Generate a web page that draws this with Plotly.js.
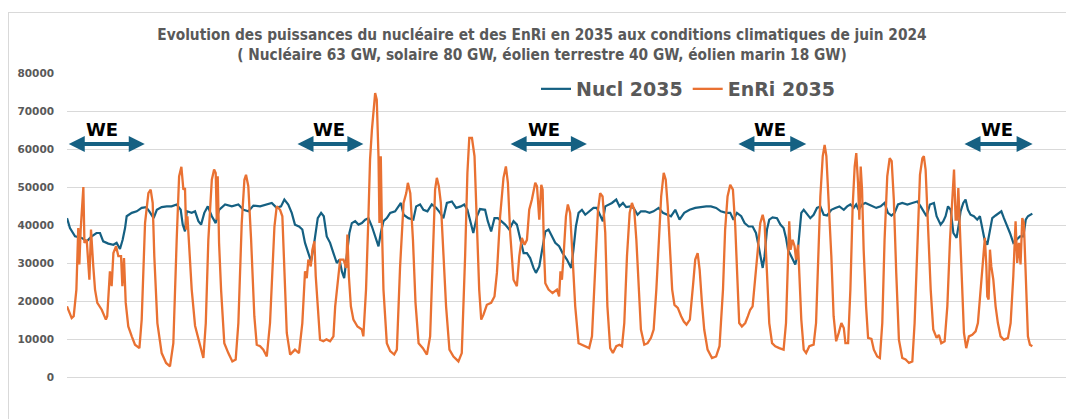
<!DOCTYPE html>
<html>
<head>
<meta charset="utf-8">
<script src="https://cdn.plot.ly/plotly-3.0.1.min.js"></script>
<style>
  html, body { margin: 0; padding: 0; background: #ffffff; }
  #wrap { position: relative; width: 1066px; height: 419px; overflow: hidden; }
  #chart { position: absolute; left: 0; top: 0; width: 1066px; height: 419px; }
  #frame { position: absolute; left: 8px; top: 12px; width: 1100px; height: 450px;
           border-left: 1px solid #d9d9d9; border-top: 1px solid #d9d9d9; pointer-events: none; }
</style>
</head>
<body>
<div id="wrap"><div id="chart"></div><div id="frame"></div></div>
<script>
// ---- Data: hours since 1 June 2024 00:00, power in MW ----
const nuclHours = [].concat(
  [0,2.2,6,11,14.7,18.4,22,24.6,27,30.8,34.6,37,39.5,41.5,43.3,44.5,48.3,52,55.7,59,61.4,64.6,67,70.6,74.4,78,81.8,84.8,86.3,88,89.3,93,95.5],
  [98,100,102.4,105,108,110.9,113.4,117.9,122.9,127.8,131.6,135.3,139,144,149,152.7,156.4,159.6,162.1,165,167.6,170,173,175.5,177.5,180,182,184,185.5,187,189.5,191.5,193.7,196.2,198.7],
  [201.2,203.2,205,206.7,208.7,210.6,212.4,214.9,217.4,219.9,222.4,224.8,227.4,229.8,232.3,234,236,238.5,241,244.7,249,251,254.6,258.3,260.4,263.3,265.8,268.8,272,275.3,278.3,280.7,283.3,287,290.2,293.7,296.2,298.6],
  [300.3,303,305.7,308,311.8,313.8,316.3,318.8,321.3,323.8,326.8,329.8,333,335.5,338,340.5,343,345.4,347.9,349.7,352.2,354.7,356.7,359.1,361.7,364.1,367,369.6,372.8,376,377.7,379.5,381.5,384,386.5,389.4,392.6,395.1,397.6,399.6],
  [401.4,403.8,406.4,409.6,412,414.6,417,420,422.5,425.5,428,431.2,434.4,437.4,441.2,444.4,447.4,450.4,453.6,456.8,460.3,464.3,468.5,472.2,476.7,480.2,484.1,487.6,491.6,494.6,497,499.6],
  [502.8,505.3,508.3,511.3,513.8,515.8,517.3,518.8,520.2,522,523.7,526.2,529.5,532,534.4,536.2,537.7,539.4,541.1,543.1,544.6,546.1,547.6,549.4,551.9,554.3,556.8,559.3,561.8,564.3,566.8,570,573,576,579.3,581.8,584.2,586.7,588.5,590.4,593,595.4,597.9],
  [600.9,603.5,606.8,609.7,612.2,614.8,617.2,619.7,622.9,626.7,630.4,634.1,636.6,639,641,643.5,646.5,648.5,651.5,653.5,655.2,657,659,661,663.4,665.2,666.4,668.4,670.1,671.9,673.8,676.3,678.8,680.8,682.6,684.3,686.3,688.3,690,692.5,695,696.8,698.7,700.7,703.2,705.7,708.2,710.7,713.2,715,716.6,719.9]
);
const nuclValues = [].concat(
  [41800,39200,37000,36600,35700,37000,37900,37900,35700,35100,34800,35300,33700,36100,39200,42300,43200,43600,44500,44700,43600,41800,44000,44700,44900,44900,45400,44000,40100,38300,43600,43200,43600],
  [41000,40100,43200,44900,42300,40500,44000,45400,44900,45400,44000,43600,45100,44900,45400,45800,44500,44900,46700,45400,43200,40100,39600,38800,35300,32200,30400,34400,38800,41800,43200,42300,37000,35300,32600],
  [30000,30900,27800,26000,31800,37900,40500,41000,40100,40500,41400,41800,39600,37000,34400,37900,41000,41800,43200,43600,45800,42700,41800,41400,44900,45400,44000,43600,45400,44500,43200,41800,45800,46200,44500,44900,45400,44000],
  [41600,37900,42300,44200,44000,41000,38300,41800,41800,41000,40100,38800,41000,40100,36600,32600,32600,31300,28700,27400,29100,34400,38300,38800,37000,35300,34400,32600,30900,28700,33500,39600,43200,44000,42700,43600,44500,44500,42700,41000],
  [44900,45400,45800,46700,44900,45800,44700,44900,44500,42700,43600,43600,43200,43600,44500,43200,42700,42300,44000,41400,43200,44000,44500,44700,44900,44900,44500,43600,43200,43200,41400,43200],
  [42300,40500,39600,39600,37900,34400,30900,28700,31800,38800,41400,42000,41800,40100,39200,36600,33500,32200,31300,29600,31800,38800,43200,44000,42700,41800,42700,44500,44900,42700,42500,44000,44500,44900,44000,44900,45400,44500,45400,44000,45400,45800,45400],
  [44900,44500,44900,45800,43200,42500,43200,45400,45800,45400,45800,46200,44900,43600,42300,45400,45800,42300,40100,41000,42300,44900,44000,37900,36600,40500,43600,45800,46700,44000,42700,42300,41400,42300,38800,36100,34800,38800,41800,42500,43200,43600,41800,40100,37900,35300,36100,37000,37000,41400,42300,43000]
);

const enriHours = [].concat(
  [0,3.5,5,7,8.4,9.2,10.2,12.2,13,14.7,16.7,17.9,19.6,20.9,22.6,25.9,29,30,32,33.3,34.6,36.6,38.3,40.3,41.3,42.5,43.8,45.7,48.3,50.7,54,55.7,58.2,60.7,62.4,63.9,65.1,67.4,70.6,73.9,76.8,79.3,81.8,83.6,85.3,86.8,88,88.8,89.8,93,95.5],
  [98,100.5,101.7,103.5,105.4,108,109.7,110.9,111.7,112.4,113.4,114.9,117.3,120.3,123.3,125.8,127.8,130.3,132.3,133.5,135.2,137.3,139.7,141.5,144,146.4,149,151.4,153.2,154.7,156.4,158.9,160.6,162.1,163.9,166.4,170,173,175.5,177.5,178.8,180,181.8,183,184.5,185.5,187,188.7,191.2,193.5],
  [196.2,198.7,200,201.7,203.7,206.2,208.2,209.1,210.2,211.7,213.6,216.6,219.9,221,223,224.8,226,227.4,228.6,229.8,231,232.3,233,234,234.8,236,238.5,241,244,246,248.4,251,253,254.2,256,258,259.9,262.2,265.4,268.4,270.8,272.8,274.5,275.8,277.3,278.8,280.7,282.7,285.2,288.2,291.9,294.4,296.9,298.6],
  [300,302,303.9,305.7,307.4,308.9,310.6,313.1,316.3,318.8,320.6,323,325.5,327.3,328.8,330.5,333,335.5,337.3,339.2,341.2,343,344.7,346.7,349.2,350.5,352.2,353.7,354.7,355.7,356.7,359.1,362.1,365.4,367,368,369.1,370.6,372.1,373.5,375.2,377,379,381.5,384,386.5,389.4,391.5,394,396,397.6,399.4],
  [401.4,403,405.1,407.1,409.6,412,413.9,415.6,417.6,419.6,421.3,423,424.6,426.3,428,430.5,433,435.5,437.5,439.5,441.3,443.1,445,446.5,448,449.6,451.3,453,455.5,458,460,462,464.5,467,468.5,470.3,471.8,473.5,475.2,477.7,481,484.1,486.6,489.2,490.8,492.6,494.6,496.6,498.3,499.8],
  [501.3,503.3,505.8,507.8,509.5,511.3,513.3,515.3,517,518.8,520.2,522,523.7,525.8,528.2,531.2,534.4,536.2,537.7,538.6,539.6,541.1,542.6,543.7,545.2,546.4,547.6,549.4,551.2,553.6,556.8,558.6,560.1,561.8,563.6,565,566.3,568,570,571.7,573.6,575.5,577.5,579.3,580.5,582.5,584.2,585.9,587.4,588.6,589.9,590.9,591.9,592.9,594.1,595.9,597.4,599.9],
  [601.7,604.2,606.2,608,609.7,611.7,613.5,615,616.6,618.4,620.4,622.9,625.4,627.9,630.4,632.1,634.1,636.1,637.9,639,640.3,642,644.1,646,648.5,650.2,652,654.5,656.5,658.5,660.3,661.5,662.7,663.7,664.7,665.9,667.4,668.9,670.6,672.6,675.1,677.6,679.3,681.3,683.3,684.5,685.6,686.3,687.3,688.3,689.3,690.8,692.5,694.2,696.2,698.7,701.7,703.7,705.7,707.4,708.6,709.9,711.1,712.4,713.6,715.1,716.6,718.1,719.9]
);
const enriValues = [].concat(
  [18600,15500,16000,23000,39200,29600,38800,50000,35300,36100,25600,38800,29100,23000,19500,17700,15100,16000,27800,23900,32600,34400,31800,31800,23900,31300,19500,13300,10700,8500,7600,15100,40500,48400,49300,45800,31800,14200,6300,3700,2800,8900,36100,52800,55300,49300,49700,38800,42300,23000,13500],
  [9800,6300,5000,14200,36100,51900,54600,53700,41400,52800,35300,23000,8900,6300,4100,4600,14200,40500,51900,53200,50200,36100,16000,8500,8100,7200,5400,14200,26500,39600,44900,44000,42300,27400,11600,5900,7200,6300,14200,27800,26000,30900,29100,33500,35700,26500,18600,9800,9400,9900],
  [9400,10700,18600,24700,30900,30900,28700,37500,26500,18600,15100,13300,12500,10700,23000,42300,57200,65100,70400,74700,73000,58000,40500,58100,40500,23000,8900,6800,5900,7200,29100,45800,48400,51100,48400,36100,19500,8900,7600,5900,10700,31800,49300,52400,50200,45800,31800,18600,7200,5400,4100,6300,31800,53700],
  [62900,62900,58100,40500,23000,15100,16400,19000,19500,21200,27400,42300,52400,55400,51100,37900,25600,23900,31800,36600,34800,36100,44000,46700,51100,50200,41400,50600,49300,33500,24700,23000,22100,23000,21200,27800,25600,33500,42300,45400,43200,31800,18600,8900,8500,8100,7600,10700,31800,44000,48400,47500],
  [38000,18600,7600,6300,8100,8500,8100,14200,31800,43200,45800,44000,36100,23000,12500,8500,8900,10300,12500,23000,36100,47500,53700,51900,44900,33500,23000,19000,18200,16000,14600,13800,15100,24700,30900,32600,28200,19500,12500,7200,5000,5400,8100,23000,38800,47500,50600,49300,40000,27000],
  [14200,13300,14200,16000,17700,18600,26500,35300,40500,42700,40500,27400,14200,8900,8100,7600,7200,14200,30000,41000,33500,36100,34400,30900,34800,26500,15100,7200,6300,8100,8500,14200,31800,47500,58100,61100,58100,46700,31800,16000,9400,11600,14200,12900,8900,8900,23000,44900,55400,58900,51100,41400,55400,49300,33500,18600,10300,10000],
  [7200,5400,5000,14200,36100,52800,57600,56800,46700,27400,9800,5000,4600,3700,4100,14200,36100,53200,57600,58100,54600,40500,23000,12500,10300,11100,8900,9400,18600,36100,49300,54600,41400,41400,49700,38800,23000,11600,7600,10700,11100,12000,14200,23000,31800,36600,29100,21200,20400,33500,29100,25600,18600,14200,10700,9800,10300,14200,26500,41000,30000,35300,29600,41800,40500,23000,10700,8500,8100]
);

const seriesNames = ['Nucl 2035', 'EnRi 2035'];
const yTicks = [0, 10000, 20000, 30000, 40000, 50000, 60000, 70000, 80000];
// Weekend markers (hours): arrow start, arrow end, label centre
const weStart = [0.2, 170.8, 329.7, 499.6, 668.2];
const weEnd   = [58.0, 221.0, 387.7, 551.3, 720.1];
const weLabelX = [26.3, 195.5, 355.8, 524.4, 693.6];
const weLabel = 'WE';

// ---- Styles ----
const BLUE = '#156082', ORANGE = '#E97132', GREY = '#595959';
const W = 1066, H = 419;
const M = {l: 67, r: 0, t: 73, b: 42};
const pw = W - M.l - M.r, ph = H - M.t - M.b;
const px2paperX = p => (p - M.l) / pw;
const px2paperY = p => (H - M.b - p) / ph;

const traces = [
  {x: nuclHours, y: nuclValues, name: seriesNames[0], type: 'scatter', mode: 'lines',
   line: {color: BLUE, width: 2.2}},
  {x: enriHours, y: enriValues, name: seriesNames[1], type: 'scatter', mode: 'lines',
   line: {color: ORANGE, width: 2.3}}
];

const annotations = [];
for (let i = 0; i < weStart.length; i++) {
  annotations.push({
    x: weEnd[i], y: 61300, ax: weStart[i], ay: 61300,
    xref: 'x', yref: 'y', axref: 'x', ayref: 'y',
    text: '', showarrow: true, arrowside: 'end+start',
    arrowhead: 2, startarrowhead: 2, arrowsize: 0.8, startarrowsize: 0.8,
    arrowwidth: 4, arrowcolor: BLUE, standoff: 0, startstandoff: 0
  });
  annotations.push({
    x: weLabelX[i], y: 65200, xref: 'x', yref: 'y', text: weLabel, showarrow: false,
    font: {family: 'DejaVu Sans, Verdana, sans-serif', size: 18, color: '#000000', weight: 'bold'},
    xanchor: 'center', yanchor: 'middle'
  });
}

const layout = {
  width: W, height: H,
  margin: M,
  paper_bgcolor: '#ffffff', plot_bgcolor: '#ffffff',
  title: {
    text: 'Evolution des puissances du nucléaire et des EnRi en 2035 aux conditions climatiques de juin 2024<br>( Nucléaire 63 GW, solaire 80 GW, éolien terrestre 40 GW, éolien marin 18 GW)',
    font: {family: 'DejaVu Sans Condensed, DejaVu Sans, sans-serif', size: 15.3, color: GREY, weight: 'bold'},
    xref: 'container', x: 542 / W, xanchor: 'center',
    yref: 'container', y: 1 - 40 / H, yanchor: 'top'
  },
  showlegend: true,
  legend: {
    orientation: 'h', x: px2paperX(536), xanchor: 'left', y: px2paperY(89), yanchor: 'middle',
    font: {family: 'DejaVu Sans, Verdana, sans-serif', size: 19, color: GREY, weight: 'bold'},
    bgcolor: 'rgba(0,0,0,0)', itemwidth: 30, traceorder: 'normal'
  },
  xaxis: {
    range: [0, 745], showgrid: false, zeroline: false, showline: false,
    showticklabels: false, ticks: '', fixedrange: true
  },
  yaxis: {
    range: [0, 80000], tickvals: yTicks, ticktext: yTicks.map(String),
    showgrid: true, gridcolor: '#d9d9d9', gridwidth: 1,
    zeroline: true, zerolinecolor: '#d9d9d9', zerolinewidth: 1,
    showline: false, ticks: '', ticklabelstandoff: 12,
    tickfont: {family: 'DejaVu Sans, Verdana, sans-serif', size: 10.5, color: GREY, weight: 'bold'},
    fixedrange: true
  },
  annotations: annotations
};

Plotly.newPlot('chart', traces, layout, {displayModeBar: false, staticPlot: true});
</script>
</body>
</html>
